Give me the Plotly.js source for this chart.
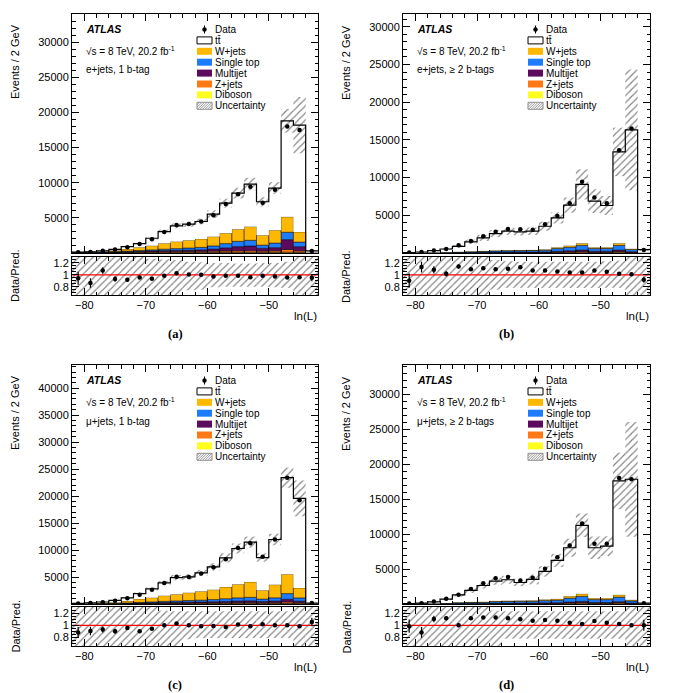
<!DOCTYPE html>
<html>
<head>
<meta charset="utf-8">
<script src="https://cdn.plot.ly/plotly-3.0.1.min.js"></script>
<style>
  html, body { margin: 0; padding: 0; background: #fff; }
  #chart { width: 673px; height: 693px; }
</style>
</head>
<body>
<div id="chart"></div>
<script>
// ln(L) binning: 20 bins of 2 GeV between -82 and -42
const binCenters = [-81,-79,-77,-75,-73,-71,-69,-67,-65,-63,-61,-59,-57,-55,-53,-51,-49,-47,-45,-43];
const binEdges = [-82,-80,-78,-76,-74,-72,-70,-68,-66,-64,-62,-60,-58,-56,-54,-52,-50,-48,-46,-44,-42];

const xTickVals = [-80,-70,-60,-50];
const eventTicksLow = [5000,10000,15000,20000,25000,30000];
const eventTicksHigh = [5000,10000,15000,20000,25000,30000,35000,40000];
const ratioTickVals = [0.8,1,1.2];
const ratioTickText = ['0.8','1','1.2'];

const legendLabels = ['Data','tt\u0304','W+jets','Single top','Multijet','Z+jets','Diboson','Uncertainty'];

// (a) e+jets, 1 b-tag
const e1Ttbar    = [30,45,90,140,330,520,1055,1670,2235,2290,2475,3190,4285,5140,6055,4770,6000,13670,15190,245];
const e1Wjets    = [20,30,60,180,300,460,600,840,1000,1100,1200,1320,1480,1720,1950,1400,1830,2190,1450,20];
const e1SingleTop= [20,30,40,60,80,110,150,200,250,300,350,450,600,750,800,450,650,1050,650,10];
const e1Multijet = [20,30,40,60,80,100,130,150,170,190,220,300,450,600,680,400,450,1400,600,10];
const e1Zjets    = [20,30,40,50,70,90,110,130,140,150,160,180,200,220,230,190,220,380,220,10];
const e1Diboson  = [10,15,20,30,40,50,55,60,65,70,75,80,85,90,95,80,90,120,80,5];
const e1Data     = [113,155,311,483,825,1271,1959,2998,3968,4125,4480,5365,6979,8375,9427,7166,8981,17982,17481,285];
const e1Unc      = [0.12,0.1,0.1,0.09,0.09,0.09,0.09,0.09,0.09,0.09,0.09,0.1,0.09,0.09,0.09,0.09,0.09,0.09,0.22,0.15];
const e1BandUp   = [0.4,0.4,0.4,0.4,0.4,0.4,0.27,0.26,0.25,0.22,0.21,0.2,0.2,0.19,0.19,0.2,0.2,0.22,0.4,0.4];
const e1BandDown = [0.4,0.4,0.4,0.4,0.4,0.4,0.4,0.4,0.4,0.26,0.25,0.21,0.2,0.2,0.2,0.2,0.21,0.22,0.4,0.4];
const e1RatioErr = [0.11,0.08,0.055,0.045,0.035,0.028,0.022,0.018,0.016,0.016,0.015,0.014,0.012,0.011,0.01,0.012,0.011,0.008,0.008,0.06];

// (b) e+jets, >= 2 b-tags
const e2Ttbar    = [40,90,240,420,730,1250,1720,2240,2510,2400,2470,3070,3910,5370,7810,6130,5540,12120,15760,420];
const e2Wjets    = [5,9,15,24,35,48,62,75,84,88,92,106,165,215,280,165,167,280,128,7];
const e2SingleTop= [10,19,34,53,77,106,134,163,182,192,202,230,360,470,620,360,365,620,278,14];
const e2Multijet = [3,6,11,17,24,33,42,51,57,60,63,72,112,147,195,112,114,195,87,5];
const e2Zjets    = [2,4,8,12,18,24,31,37,42,44,46,53,83,108,142,83,84,142,64,3];
const e2Diboson  = [1,2,3,4,6,9,11,14,15,16,17,19,30,40,53,30,30,53,23,1];
const e2Data     = [55,147,337,539,1014,1608,2222,2823,3179,3158,3098,3806,4921,6598,9455,7375,6615,13638,16520,413];
const e2Unc      = [0.2,0.2,0.2,0.2,0.2,0.2,0.2,0.18,0.17,0.17,0.17,0.17,0.16,0.16,0.22,0.23,0.2,0.24,0.49,0.3];
const e2BandUp   = [0.4,0.4,0.4,0.4,0.4,0.4,0.4,0.25,0.23,0.22,0.22,0.22,0.22,0.22,0.22,0.22,0.23,0.24,0.4,0.4];
const e2BandDown = [0.4,0.4,0.4,0.4,0.4,0.4,0.4,0.25,0.22,0.22,0.22,0.22,0.22,0.22,0.22,0.22,0.22,0.22,0.4,0.4];
const e2RatioErr = [0.12,0.09,0.06,0.045,0.035,0.03,0.024,0.02,0.02,0.02,0.02,0.018,0.015,0.013,0.011,0.012,0.013,0.009,0.008,0.05];

// (c) mu+jets, 1 b-tag
const m1Ttbar    = [60,90,170,380,570,990,1610,2350,3090,2920,3410,4220,5390,6630,7370,6070,8370,17910,16610,140];
const m1Wjets    = [25,47,108,162,345,625,790,1055,1230,1455,1630,1835,2180,2515,2850,1625,2445,3580,1840,20];
const m1SingleTop= [10,15,30,50,80,120,160,220,260,300,340,400,500,600,650,450,600,1050,600,7];
const m1Multijet = [10,15,25,35,50,80,100,130,150,170,190,220,260,300,330,250,300,500,300,5];
const m1Zjets    = [10,15,25,35,50,70,90,100,110,120,130,140,150,170,180,150,170,280,160,5];
const m1Diboson  = [5,8,12,18,25,35,40,45,50,55,60,65,70,75,80,65,75,100,70,3];
const m1Data     = [106,172,344,614,1068,1734,2631,3900,5032,5020,5662,6804,8302,10403,11265,8756,11960,23420,19247,190];
const m1Unc      = [0.1,0.1,0.1,0.1,0.1,0.1,0.1,0.1,0.1,0.1,0.1,0.1,0.1,0.09,0.09,0.09,0.09,0.08,0.17,0.12];
const m1BandUp   = [0.4,0.4,0.4,0.4,0.4,0.4,0.4,0.24,0.23,0.23,0.23,0.23,0.23,0.23,0.23,0.23,0.23,0.23,0.4,0.4];
const m1BandDown = [0.4,0.4,0.4,0.4,0.4,0.4,0.4,0.4,0.4,0.23,0.21,0.21,0.21,0.21,0.21,0.21,0.21,0.21,0.4,0.4];
const m1RatioErr = [0.09,0.07,0.05,0.04,0.03,0.025,0.02,0.017,0.015,0.014,0.013,0.012,0.011,0.01,0.01,0.011,0.009,0.007,0.007,0.07];

// (d) mu+jets, >= 2 b-tags
const m2Ttbar    = [50,80,230,540,1060,1630,2330,2820,2990,2580,2990,4010,5500,6930,9800,7210,7450,16300,17250,90];
const m2Wjets    = [5,10,20,38,63,78,80,113,120,125,130,163,185,280,365,210,210,328,150,8];
const m2SingleTop= [10,20,40,75,125,155,160,225,240,250,260,325,370,560,730,420,420,655,300,15];
const m2Multijet = [2,4,8,15,25,31,32,45,48,50,52,65,74,112,146,84,84,131,60,3];
const m2Zjets    = [2,4,9,16,27,34,35,50,53,55,57,71,81,123,161,92,92,144,66,3];
const m2Diboson  = [1,2,3,6,10,12,13,18,19,20,21,26,30,45,58,34,34,52,24,1];
const m2Data     = [69,106,342,769,1310,2161,2984,3683,3866,3379,3770,5061,6702,8372,11519,8605,8622,18015,17850,120];
const m2Unc      = [0.2,0.2,0.2,0.2,0.18,0.18,0.17,0.16,0.16,0.17,0.2,0.16,0.15,0.16,0.15,0.2,0.17,0.23,0.46,0.3];
const m2BandUp   = [0.4,0.4,0.4,0.4,0.4,0.4,0.4,0.24,0.23,0.23,0.23,0.23,0.23,0.23,0.23,0.23,0.23,0.23,0.4,0.4];
const m2BandDown = [0.4,0.4,0.4,0.4,0.4,0.4,0.4,0.4,0.22,0.22,0.22,0.22,0.22,0.22,0.22,0.22,0.22,0.22,0.4,0.4];
const m2RatioErr = [0.11,0.09,0.055,0.037,0.028,0.023,0.02,0.018,0.017,0.018,0.017,0.015,0.013,0.011,0.01,0.011,0.011,0.008,0.008,0.09];

// ---------------------------------------------------------------------------
const W = 673, H = 693;
const FONT = 'Liberation Sans, Arial, Helvetica, sans-serif';
const px = x => x / W;          // pixel x -> paper fraction
const py = y => 1 - y / H;      // pixel y -> paper fraction

// stacking order bottom -> top, with fill colours
const stackColors = { diboson: '#ffff1e', zjets: '#ff7816', multijet: '#5c0a5e', singletop: '#1e7cff', wjets: '#ffb800' };
const legendColors = [null, '#ffffff', stackColors.wjets, stackColors.singletop, stackColors.multijet, stackColors.zjets, stackColors.diboson, null];
const hatch = { shape: '/', fgcolor: '#808080', bgcolor: 'rgba(0,0,0,0)', size: 5, solidity: 0.22, fillmode: 'replace' };

const panels = [
  { L: 72,  R: 318, T: 14,  B: 253, RT: 257, RB: 295, ymax: 34000, yticks: eventTicksLow, channel: 'e+jets, 1 b-tag', tag: '(a)',
    ttbar: e1Ttbar, wjets: e1Wjets, singletop: e1SingleTop, multijet: e1Multijet, zjets: e1Zjets, diboson: e1Diboson,
    data: e1Data, unc: e1Unc, up: e1BandUp, down: e1BandDown, rerr: e1RatioErr },
  { L: 403, R: 650, T: 14,  B: 253, RT: 257, RB: 295, ymax: 31700, yticks: eventTicksLow, channel: 'e+jets, \u2265 2 b-tags', tag: '(b)',
    ttbar: e2Ttbar, wjets: e2Wjets, singletop: e2SingleTop, multijet: e2Multijet, zjets: e2Zjets, diboson: e2Diboson,
    data: e2Data, unc: e2Unc, up: e2BandUp, down: e2BandDown, rerr: e2RatioErr },
  { L: 72,  R: 318, T: 365, B: 604, RT: 607, RB: 646, ymax: 44300, yticks: eventTicksHigh, channel: '\u03bc+jets, 1 b-tag', tag: '(c)',
    ttbar: m1Ttbar, wjets: m1Wjets, singletop: m1SingleTop, multijet: m1Multijet, zjets: m1Zjets, diboson: m1Diboson,
    data: m1Data, unc: m1Unc, up: m1BandUp, down: m1BandDown, rerr: m1RatioErr },
  { L: 403, R: 650, T: 365, B: 604, RT: 607, RB: 646, ymax: 34200, yticks: eventTicksLow, channel: '\u03bc+jets, \u2265 2 b-tags', tag: '(d)',
    ttbar: m2Ttbar, wjets: m2Wjets, singletop: m2SingleTop, multijet: m2Multijet, zjets: m2Zjets, diboson: m2Diboson,
    data: m2Data, unc: m2Unc, up: m2BandUp, down: m2BandDown, rerr: m2RatioErr }
];

const traces = [];
const layout = {
  width: W, height: H,
  margin: { l: 0, r: 0, t: 0, b: 0 },
  paper_bgcolor: '#fff', plot_bgcolor: '#fff',
  barmode: 'overlay',
  showlegend: false,
  font: { family: FONT, size: 11, color: '#000' },
  annotations: [], shapes: []
};

const axisBase = {
  showline: true, linecolor: '#000', linewidth: 1, mirror: 'ticks',
  ticks: 'inside', tickcolor: '#000', tickwidth: 1,
  showgrid: false, zeroline: false, fixedrange: true,
  tickfont: { family: FONT, size: 11, color: '#000' }
};

function ann(text, x, y, opts) {
  layout.annotations.push(Object.assign({
    text: text, x: px(x), y: py(y), xref: 'paper', yref: 'paper',
    showarrow: false, xanchor: 'left', yanchor: 'middle',
    font: { family: FONT, size: 10, color: '#000' }
  }, opts || {}));
}

panels.forEach((p, i) => {
  const n = i + 1;
  const xm = n === 1 ? 'x' : 'x' + n, ym = n === 1 ? 'y' : 'y' + n;
  const xr = 'x' + (n + 4), yr = 'y' + (n + 4);
  const xmKey = n === 1 ? 'xaxis' : 'xaxis' + n, ymKey = n === 1 ? 'yaxis' : 'yaxis' + n;

  // stacked backgrounds
  const comps = ['diboson', 'zjets', 'multijet', 'singletop', 'wjets'];
  let base = binCenters.map(() => 0);
  comps.forEach(c => {
    const vals = p[c];
    traces.push({ type: 'bar', x: binCenters, y: vals, base: base.slice(), width: 2,
      xaxis: xm, yaxis: ym, hoverinfo: 'skip',
      marker: { color: stackColors[c], line: { color: '#000', width: 0.5 } } });
    base = base.map((b, j) => b + vals[j]);
  });
  const total = base.map((b, j) => b + p.ttbar[j]);

  // ttbar on top of the stack
  traces.push({ type: 'bar', x: binCenters, y: p.ttbar, base: base.slice(), width: 2,
    xaxis: xm, yaxis: ym, hoverinfo: 'skip', marker: { color: '#fff', line: { width: 0 } } });

  // prediction uncertainty
  traces.push({ type: 'bar', x: binCenters,
    y: total.map((t, j) => 2 * t * p.unc[j]), base: total.map((t, j) => t * (1 - p.unc[j])), width: 2,
    xaxis: xm, yaxis: ym, hoverinfo: 'skip',
    marker: { color: 'rgba(0,0,0,0)', line: { width: 0 }, pattern: hatch } });

  // outline of the total prediction
  traces.push({ type: 'scatter', mode: 'lines', x: binEdges, y: total.concat([total[total.length - 1]]),
    xaxis: xm, yaxis: ym, hoverinfo: 'skip', line: { shape: 'hv', color: '#000', width: 1.2 } });

  // data
  traces.push({ type: 'scatter', mode: 'markers', x: binCenters, y: p.data, xaxis: xm, yaxis: ym,
    hoverinfo: 'skip', marker: { color: '#000', size: 4.5, symbol: 'circle' } });

  // ratio panel
  traces.push({ type: 'bar', x: binCenters, y: p.up.map((u, j) => u + p.down[j]), base: p.down.map(d => 1 - d), width: 2,
    xaxis: xr, yaxis: yr, hoverinfo: 'skip',
    marker: { color: 'rgba(0,0,0,0)', line: { width: 0 }, pattern: hatch } });
  traces.push({ type: 'scatter', mode: 'lines', x: [binEdges[0], binEdges[binEdges.length - 1]], y: [1, 1],
    xaxis: xr, yaxis: yr, hoverinfo: 'skip', line: { color: '#ff0000', width: 1.2 } });
  traces.push({ type: 'scatter', mode: 'markers', x: binCenters, y: p.data.map((d, j) => d / total[j]),
    xaxis: xr, yaxis: yr, hoverinfo: 'skip',
    error_y: { type: 'data', array: p.rerr, color: '#000', thickness: 1.2, width: 0 },
    marker: { color: '#000', size: 4.5, symbol: 'circle' } });

  // axes
  layout[xmKey] = Object.assign({}, axisBase, {
    domain: [px(p.L), px(p.R)], range: [binEdges[0], binEdges[binEdges.length - 1]], anchor: ym,
    tickmode: 'array', tickvals: xTickVals, showticklabels: false, ticklen: 7,
    minor: { tickmode: 'linear', tick0: binEdges[0], dtick: 2, ticks: 'inside', ticklen: 3.5, tickcolor: '#000' }
  });
  layout[ymKey] = Object.assign({}, axisBase, {
    domain: [py(p.B), py(p.T)], range: [0, p.ymax], anchor: xm,
    tickmode: 'array', tickvals: p.yticks, ticktext: p.yticks.map(String), ticklen: 7,
    minor: { tickmode: 'linear', tick0: 0, dtick: 1000, ticks: 'inside', ticklen: 3.5, tickcolor: '#000' }
  });
  layout['xaxis' + (n + 4)] = Object.assign({}, axisBase, {
    domain: [px(p.L), px(p.R)], range: [binEdges[0], binEdges[binEdges.length - 1]], anchor: yr,
    tickmode: 'array', tickvals: xTickVals, ticklen: 7,
    minor: { tickmode: 'linear', tick0: binEdges[0], dtick: 2, ticks: 'inside', ticklen: 3.5, tickcolor: '#000' }
  });
  layout['yaxis' + (n + 4)] = Object.assign({}, axisBase, {
    domain: [py(p.RB), py(p.RT)], range: [0.66, 1.3], anchor: xr,
    tickmode: 'array', tickvals: ratioTickVals, ticktext: ratioTickText, ticklen: 7,
    minor: { tickmode: 'linear', tick0: 0, dtick: 0.05, ticks: 'inside', ticklen: 3.5, tickcolor: '#000' }
  });

  // labels inside the main frame
  ann('<b><i>ATLAS</i></b>', p.L + 12, p.T + 15, { font: { family: FONT, size: 10.5, color: '#000' } });
  ann('\u221as = 8 TeV, 20.2 fb<sup>-1</sup>', p.L + 12, p.T + 37);
  ann(p.channel, p.L + 12, p.T + 56);

  // legend
  const bx0 = p.L + 125, bx1 = p.L + 140;
  legendLabels.forEach((lab, k) => {
    const yc = p.T + 15.5 + k * 10.9;
    ann(lab, p.L + 141, yc);
    if (k === 0) {
      const cx = (bx0 + bx1) / 2;
      layout.shapes.push({ type: 'line', xref: 'paper', yref: 'paper', x0: px(cx), x1: px(cx), y0: py(yc - 4), y1: py(yc + 4), line: { color: '#000', width: 1 } });
      layout.shapes.push({ type: 'circle', xref: 'paper', yref: 'paper', x0: px(cx - 2.2), x1: px(cx + 2.2), y0: py(yc + 2.2), y1: py(yc - 2.2), fillcolor: '#000', line: { width: 0 } });
    } else if (k === legendLabels.length - 1) {
      layout.shapes.push({ type: 'rect', xref: 'paper', yref: 'paper', x0: px(bx0), x1: px(bx1), y0: py(yc + 3.5), y1: py(yc - 3.5), fillcolor: 'rgba(0,0,0,0)', line: { color: '#777', width: 0.8 } });
      let path = '';
      const yb = yc + 3.5, yt = yc - 3.5, h = 7;
      for (let k2 = -h; k2 < (bx1 - bx0); k2 += 2.5) {
        let sx = bx0 + k2, sy = yb, ex = bx0 + k2 + h, ey = yt;
        if (sx < bx0) { sy -= (bx0 - sx); sx = bx0; }
        if (ex > bx1) { ey += (ex - bx1); ex = bx1; }
        path += 'M' + px(sx) + ',' + py(sy) + 'L' + px(ex) + ',' + py(ey);
      }
      layout.shapes.push({ type: 'path', xref: 'paper', yref: 'paper', path: path, line: { color: '#808080', width: 0.8 } });
    } else {
      layout.shapes.push({ type: 'rect', xref: 'paper', yref: 'paper', x0: px(bx0), x1: px(bx1), y0: py(yc + 3.5), y1: py(yc - 3.5),
        fillcolor: legendColors[k], line: { color: '#000', width: k === 1 ? 1 : 0 } });
    }
  });

  // axis titles and panel tag
  ann('Events / 2 GeV', p.L - 57, p.T + 48, { textangle: -90, xanchor: 'center', yanchor: 'middle', font: { family: FONT, size: 11, color: '#000' } });
  ann('Data/Pred.', p.L - 57, (p.RT + p.RB) / 2, { textangle: -90, xanchor: 'center', yanchor: 'middle', font: { family: FONT, size: 11, color: '#000' } });
  ann('ln(L)', p.R + 1, p.RB + 21, { xanchor: 'right', font: { family: FONT, size: 11.5, color: '#000' } });
  ann('<b>' + p.tag + '</b>', p.L + 103, p.RB + 39, { xanchor: 'center', font: { family: 'Liberation Serif, Times New Roman, serif', size: 12.5, color: '#000' } });
});

Plotly.newPlot('chart', traces, layout, { staticPlot: true, displayModeBar: false });
</script>
</body>
</html>
